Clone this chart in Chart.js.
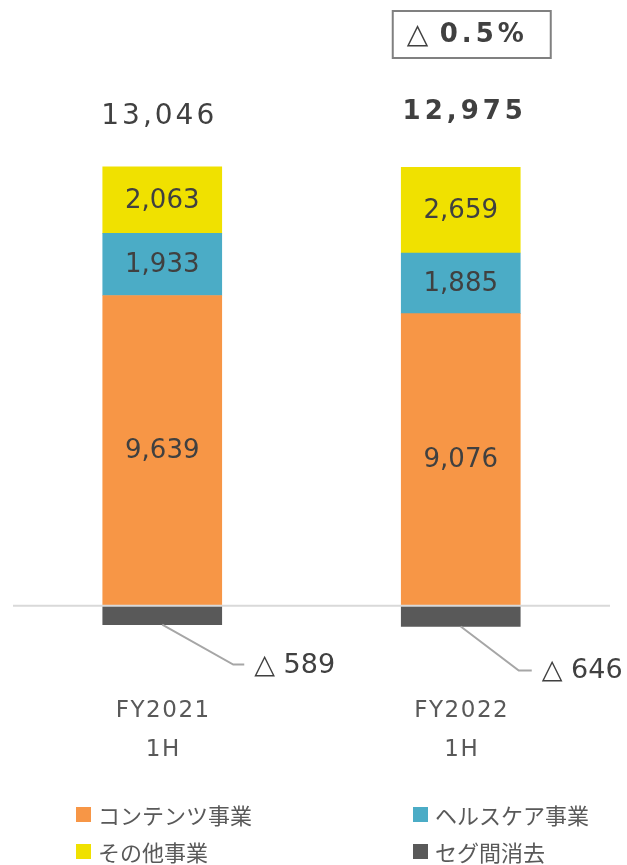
<!DOCTYPE html>
<html><head><meta charset="utf-8">
<script src="https://cdn.jsdelivr.net/npm/chart.js@4"></script>
<style>
html,body{margin:0;padding:0;background:#fff;}
#wrap{position:relative;width:627px;height:865px;overflow:hidden;}
#c{position:absolute;left:0;top:0;}
.lg{position:absolute;display:flex;align-items:center;height:26px;font-family:"Noto Sans CJK JP","Noto Sans",sans-serif;font-size:22px;color:#595959;line-height:1;white-space:nowrap;}
.lg i{display:inline-block;width:15px;height:15px;margin-right:7px;}
</style></head><body>
<div id="wrap"><canvas id="c" width="627" height="865"></canvas><div id="legend"></div></div>
<script>
const categories = [["FY2021","1H"],["FY2022","1H"]];
const seriesNames = ["コンテンツ事業","ヘルスケア事業","その他事業","セグ間消去"];
const contents = [9639, 9076];
const healthcare = [1933, 1885];
const others = [2063, 2659];
const elimination = [-589, -646];
const totals = [13046, 12975];
const changeLabel = "0.5%";
const seriesColors = ["#F79646","#4BACC6","#F0E100","#595959"];

const fmt = v => v.toLocaleString('en-US');
const TEXT = '#404040';

const overlay = {
  id: 'overlay',
  afterDatasetsDraw(chart) {
    const ctx = chart.ctx, xs = chart.scales.x, ys = chart.scales.y, ca = chart.chartArea;
    ctx.save();
    // zero line
    const y0 = ys.getPixelForValue(0);
    ctx.strokeStyle = '#d9d9d9'; ctx.lineWidth = 2;
    ctx.beginPath(); ctx.moveTo(ca.left, y0); ctx.lineTo(ca.right, y0); ctx.stroke();

    // segment labels
    ctx.fillStyle = TEXT; ctx.textAlign = 'center'; ctx.textBaseline = 'middle';
    ctx.font = '26px "DejaVu Sans"';
    [0,1,2].forEach(d => {
      chart.getDatasetMeta(d).data.forEach((el, i) => {
        const v = chart.data.datasets[d].data[i];
        ctx.fillText(fmt(v), el.x, (el.y + el.base) / 2 + 1);
      });
    });

    // totals
    const topMeta = chart.getDatasetMeta(2);
    totals.forEach((t, i) => {
      const el = topMeta.data[i];
      if (i === totals.length - 1) {
        ctx.font = 'bold 26px "DejaVu Sans"'; ctx.letterSpacing = '4px';
        ctx.fillText(fmt(t), el.x + 4, el.y - 55);
      } else {
        ctx.font = '28px "DejaVu Sans"'; ctx.letterSpacing = '3px';
        ctx.fillText(fmt(t), el.x - 3, el.y - 50);
      }
    });
    ctx.letterSpacing = '0px';

    // change box above last bar
    const last = topMeta.data[totals.length - 1];
    const bx = last.x - 68, by = 11, bw = 158, bh = 47;
    ctx.strokeStyle = '#808080'; ctx.lineWidth = 2;
    ctx.strokeRect(bx, by, bw, bh);
    ctx.textAlign = 'left';
    ctx.font = '28px "DejaVu Sans"';
    ctx.fillText('△', bx + 14, by + bh / 2 + 1);
    ctx.font = 'bold 26px "DejaVu Sans"'; ctx.letterSpacing = '4px';
    ctx.fillText(changeLabel, bx + 47, by + bh / 2 + 1);
    ctx.letterSpacing = '0px';

    // negative callouts
    const negMeta = chart.getDatasetMeta(3);
    const dxs = [71, 58], dys = [40, 44], tails = [11, 13];
    negMeta.data.forEach((el, i) => {
      const v = chart.data.datasets[3].data[i];
      const sx = el.x, sy = Math.max(el.y, el.base);
      const ex = sx + dxs[i], ey = sy + dys[i];
      ctx.strokeStyle = '#a6a6a6'; ctx.lineWidth = 2;
      ctx.beginPath(); ctx.moveTo(sx, sy); ctx.lineTo(ex, ey); ctx.lineTo(ex + tails[i], ey); ctx.stroke();
      ctx.fillStyle = TEXT; ctx.font = '27px "DejaVu Sans"'; ctx.textAlign = 'left';
      ctx.fillText('△ ' + fmt(Math.abs(v)), ex + tails[i] + 10, ey + 1);
    });

    // category labels
    ctx.fillStyle = '#595959'; ctx.textAlign = 'center'; ctx.font = '23px "DejaVu Sans"';
    ctx.letterSpacing = '1.5px';
    categories.forEach((lines, i) => {
      const x = xs.getPixelForValue(i) + 1;
      lines.forEach((s, k) => ctx.fillText(s, x, ca.bottom + 41 + k * 39));
    });
    ctx.restore();
  }
};

new Chart(document.getElementById('c'), {
  type: 'bar',
  data: {
    labels: categories.map(c => c.join(' ')),
    datasets: [
      { label: seriesNames[0], data: contents, backgroundColor: seriesColors[0] },
      { label: seriesNames[1], data: healthcare, backgroundColor: seriesColors[1] },
      { label: seriesNames[2], data: others, backgroundColor: seriesColors[2] },
      { label: seriesNames[3], data: elimination, backgroundColor: seriesColors[3] }
    ]
  },
  options: {
    responsive: false, animation: false, devicePixelRatio: 1,
    layout: { padding: { left: 13, right: 17, top: 123, bottom: 195 } },
    plugins: { legend: { display: false }, tooltip: { enabled: false } },
    datasets: { bar: { barThickness: 119, borderWidth: 0 } },
    scales: {
      x: { display: false, stacked: true, offset: true },
      y: { display: false, stacked: true, min: -2000, max: 15000 }
    }
  },
  plugins: [overlay]
});

// legend (2 x 2)
const legend = document.getElementById('legend');
const lx = [76, 413], ly = [801, 838];
seriesNames.forEach((n, i) => {
  const d = document.createElement('div');
  d.className = 'lg';
  d.style.left = lx[i % 2] + 'px';
  d.style.top = ly[Math.floor(i / 2)] + 'px';
  d.innerHTML = '<i style="background:' + seriesColors[i] + '"></i>' + n;
  legend.appendChild(d);
});
</script>
</body></html>
